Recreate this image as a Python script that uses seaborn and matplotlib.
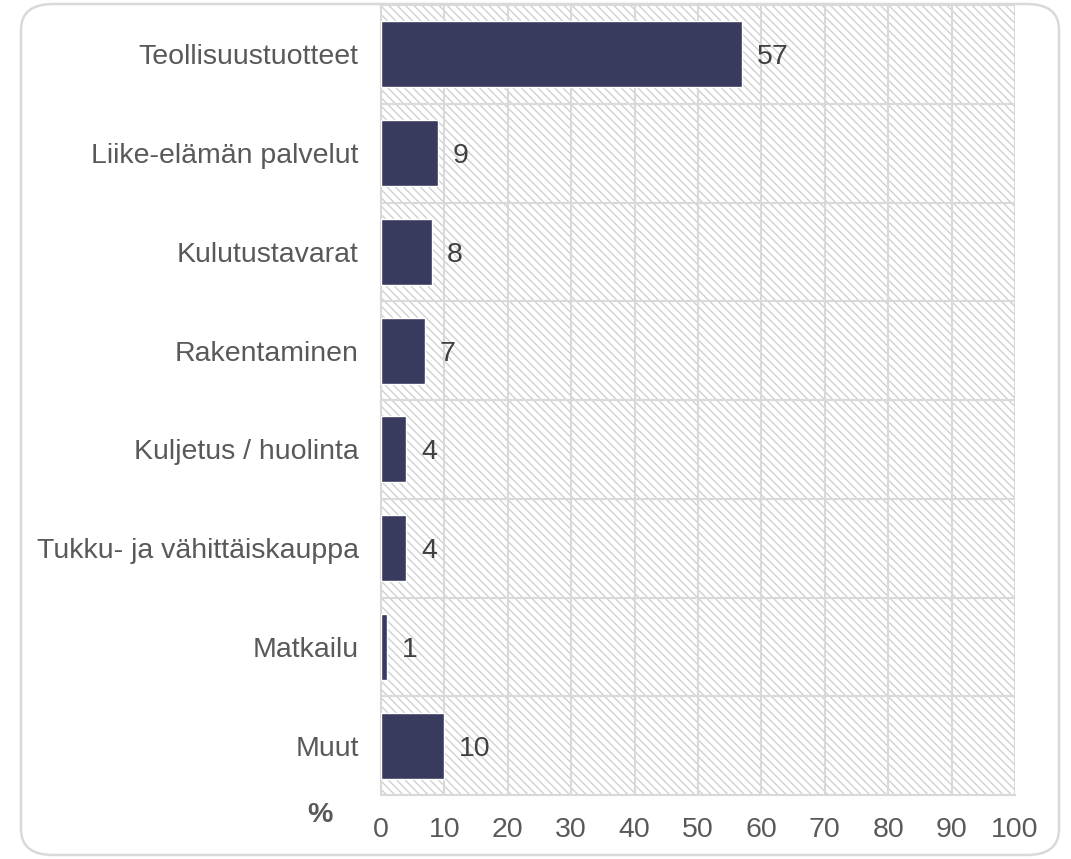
import matplotlib
matplotlib.use("Agg")
import matplotlib.pyplot as plt
import seaborn as sns
import pandas as pd
from matplotlib.patches import Rectangle, FancyBboxPatch

# Data
categories = ["Teollisuustuotteet", "Liike-elämän palvelut", "Kulutustavarat",
              "Rakentaminen", "Kuljetus / huolinta", "Tukku- ja vähittäiskauppa",
              "Matkailu", "Muut"]
values = [57, 9, 8, 7, 4, 4, 1, 10]
x_ticks = [0, 10, 20, 30, 40, 50, 60, 70, 80, 90, 100]

df = pd.DataFrame({"category": categories, "value": values})

sns.set_style("white")
plt.rcParams["font.family"] = ["Liberation Sans", "DejaVu Sans"]
plt.rcParams["hatch.linewidth"] = 1.0

text_col = "#595959"
value_col = "#404040"
grid_col = "#d9d9d9"
bar_col = "#383a5e"
fs = 20.5

fig = plt.figure(figsize=(10.71, 8.59), dpi=100)
ax = fig.add_axes([381 / 1071, 1 - 795 / 859, (1015 - 381) / 1071, (795 - 5) / 859])

# hatched plot background
ax.add_patch(Rectangle((0, 0), 1, 1, transform=ax.transAxes, facecolor="white",
                       edgecolor="#d0d0d0", hatch="\\\\\\\\", lw=0, zorder=0))

sns.barplot(data=df, x="value", y="category", orient="h", color=bar_col,
            width=0.67, saturation=1, ax=ax, zorder=3)

ax.set_xlim(0, 100)
ax.set_ylim(len(categories) - 0.5, -0.5)
ax.set_xticks(x_ticks)
ax.set_xticklabels([str(t) for t in x_ticks], fontsize=fs, color=text_col)
ax.tick_params(axis="x", length=0, pad=15.5)
ax.tick_params(axis="y", which="major", length=0, pad=16, labelsize=fs, labelcolor=text_col)
ax.set_yticks([i - 0.5 for i in range(len(categories) + 1)], minor=True)
ax.tick_params(axis="y", which="minor", length=8, width=1.5, color=grid_col)
ax.set_xlabel("")
ax.set_ylabel("")

ax.grid(axis="x", color=grid_col, lw=1.5, zorder=1)
ax.grid(axis="y", which="minor", color=grid_col, lw=1.5, zorder=1)
ax.grid(axis="y", which="major", visible=False)
ax.set_axisbelow(True)

for side in ["top", "right"]:
    ax.spines[side].set_visible(False)
for side in ["left", "bottom"]:
    ax.spines[side].set_color(grid_col)
    ax.spines[side].set_linewidth(1.5)

# value labels
for i, v in enumerate(values):
    ax.text(v + 2.3, i + 0.03, str(v), va="center", ha="left", fontsize=fs,
            color=value_col, zorder=4)

fig.text(320 / 1071, 1 - 815 / 859, "%", fontsize=fs, color=text_col,
         ha="center", va="center", fontweight="bold")

# rounded outer border
fig.patches.append(FancyBboxPatch((21 / 1071, 4 / 859), (1059 - 21) / 1071, (855 - 4) / 859,
                                  boxstyle="round,pad=0,rounding_size=0.03",
                                  transform=fig.transFigure, facecolor="none",
                                  edgecolor=grid_col, lw=1.8, zorder=0))

fig.savefig("out.png", dpi=100)
